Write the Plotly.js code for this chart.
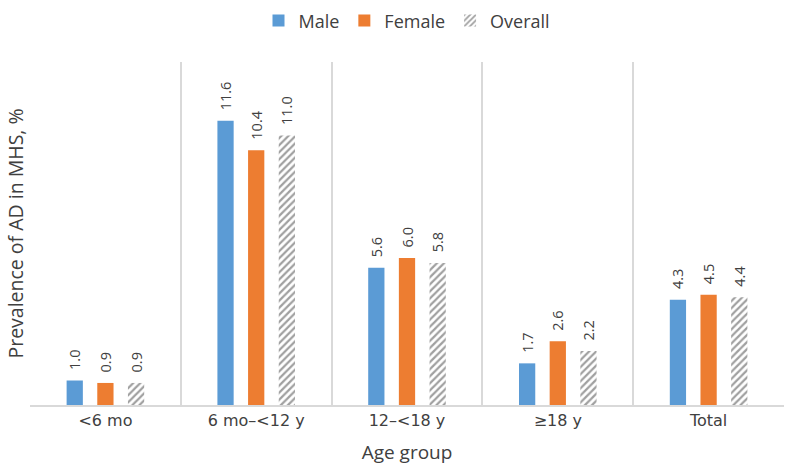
<!DOCTYPE html>
<html>
<head>
<meta charset="utf-8">
<script src="https://cdn.plot.ly/plotly-3.0.1.min.js"></script>
<style>html,body{margin:0;padding:0;background:#fff;}#chart{width:786px;height:465px;}</style>
</head>
<body>
<div id="chart"></div>
<script>
var categories = ["<6 mo", "6 mo\u2013<12 y", "12\u2013<18 y", "\u226518 y", "Total"];
var male = [1.0, 11.6, 5.6, 1.7, 4.3];
var female = [0.9, 10.4, 6.0, 2.6, 4.5];
var overall = [0.9, 11.0, 5.8, 2.2, 4.4];
var seriesNames = ["Male", "Female", "Overall"];

var txtFont = {family: "Open Sans, sans-serif", size: 14.5, color: "#404040"};
function mk(name, vals, marker) {
  return {
    type: "bar", name: name, x: categories, y: vals,
    marker: marker,
    texttemplate: "\u00a0\u00a0%{y:.1f}", textposition: "outside", textangle: -90,
    constraintext: "none",
    outsidetextfont: txtFont, cliponaxis: false, hoverinfo: "skip"
  };
}
var data = [
  mk(seriesNames[0], male, {color: "#5B9BD5"}),
  mk(seriesNames[1], female, {color: "#ED7D31"}),
  mk(seriesNames[2], overall, {color: "#ffffff", pattern: {shape: "/", fgcolor: "#a0a0a0", bgcolor: "#ffffff", size: 5, solidity: 0.45}})
];
var layout = {
  width: 786, height: 465,
  margin: {l: 30, r: 2, t: 54, b: 60},
  paper_bgcolor: "#ffffff", plot_bgcolor: "#ffffff",
  barmode: "group", bargap: 0.39, bargroupgap: 0.47,
  font: {family: "Open Sans, sans-serif", color: "#404040"},
  showlegend: true,
  legend: {orientation: "h", x: 0.5, xanchor: "center", y: 1.12, yanchor: "middle",
           itemwidth: 30, font: {size: 18, color: "#404040"}},
  xaxis: {
    type: "category", tickson: "boundaries", showgrid: true, gridcolor: "#d9d9d9", gridwidth: 2,
    showline: true, linecolor: "#d9d9d9", linewidth: 2, ticks: "",
    tickfont: {family: "DejaVu Sans, sans-serif", size: 16, color: "#404040"},
    title: {text: "Age group", font: {size: 19, color: "#404040"}, standoff: 16}
  },
  yaxis: {
    range: [0, 14], showticklabels: false, showgrid: false, zeroline: false, showline: false, ticks: "",
    title: {text: "Prevalence of AD in MHS, %", font: {size: 19.5, color: "#404040"}, standoff: 0}
  }
};
Plotly.newPlot("chart", data, layout, {displayModeBar: false, staticPlot: true});
</script>
</body>
</html>
